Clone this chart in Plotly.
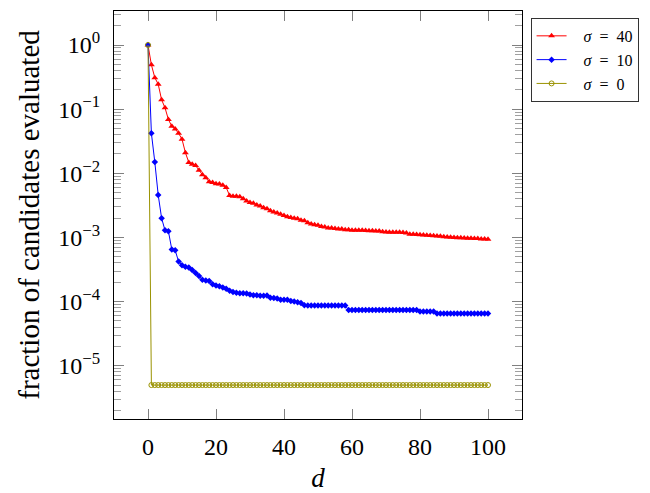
import plotly.graph_objects as go

# Number of dimensions d
d_values = list(range(0, 101))

# Fraction of candidates evaluated, sigma = 40
frac_sigma40 = [
    1.0, 0.49, 0.31, 0.245, 0.14, 0.105, 0.069, 0.054, 0.049, 0.042,
    0.034, 0.021, 0.0148, 0.0138, 0.0132, 0.0112, 0.0095, 0.0085, 0.0074, 0.0072,
    0.0069, 0.0068, 0.0065, 0.006, 0.0045, 0.0044, 0.0044, 0.0043, 0.004, 0.0037,
    0.0035, 0.0034, 0.0032, 0.0031, 0.0029, 0.0028, 0.0026, 0.0025, 0.0024, 0.0023,
    0.0022, 0.0021, 0.00204, 0.002, 0.00195, 0.00186, 0.00182, 0.0017, 0.00162, 0.00158,
    0.00155, 0.00148, 0.00145, 0.00141, 0.00141, 0.00138, 0.00135, 0.00135, 0.00132, 0.00132,
    0.0013, 0.0013, 0.00129, 0.00129, 0.00128, 0.00127, 0.00127, 0.00126, 0.00126, 0.00123,
    0.00122, 0.0012, 0.0012, 0.0012, 0.0012, 0.00119, 0.00117, 0.00112, 0.00112, 0.00111,
    0.0011, 0.00109, 0.00108, 0.00107, 0.00106, 0.00105, 0.00104, 0.00103, 0.00102, 0.00101,
    0.001, 0.00099, 0.00099, 0.00098, 0.00097, 0.00097, 0.00096, 0.00096, 0.00095, 0.00095,
    0.00094,
]

# Fraction of candidates evaluated, sigma = 10
frac_sigma10 = [
    1.0, 0.042, 0.015, 0.0046, 0.002, 0.00129, 0.00125, 0.00065, 0.00063, 0.00042,
    0.00037, 0.00035, 0.00034, 0.00031, 0.00028, 0.00025, 0.00022, 0.000214, 0.00021, 0.000186,
    0.000178, 0.000174, 0.000166, 0.000158, 0.000148, 0.000141, 0.000138, 0.000135, 0.000135, 0.000134,
    0.000129, 0.000126, 0.000126, 0.000123, 0.000123, 0.000125, 0.000115, 0.000114, 0.000112, 0.000107,
    0.000107, 0.000107, 0.000102, 0.0001, 0.000098, 0.000095, 0.000088, 0.000087, 0.000087, 0.000087,
    0.000087, 0.000087, 0.000087, 0.000087, 0.000087, 0.000087, 0.000087, 0.000087, 0.000087, 0.000074,
    0.000074, 0.000074, 0.000074, 0.000074, 0.000074, 0.000074, 0.000074, 0.000074, 0.000074, 0.000074,
    0.000074, 0.000074, 0.000074, 0.000074, 0.000074, 0.000074, 0.000074, 0.000074, 0.000074, 0.000074,
    0.00007, 0.00007, 0.00007, 0.00007, 0.00007, 0.000065, 0.000065, 0.000065, 0.000065, 0.000065,
    0.000065, 0.000065, 0.000065, 0.000065, 0.000065, 0.000065, 0.000065, 0.000065, 0.000065, 0.000065,
    0.000065,
]

# Fraction of candidates evaluated, sigma = 0
frac_sigma0 = [1.0] + [5e-6] * 100

series_names = ["&nbsp;&nbsp;&nbsp;<i>σ</i>&nbsp;&nbsp;=&nbsp;&nbsp;40",
                "&nbsp;&nbsp;&nbsp;<i>σ</i>&nbsp;&nbsp;=&nbsp;&nbsp;10",
                "&nbsp;&nbsp;&nbsp;<i>σ</i>&nbsp;&nbsp;=&nbsp;&nbsp;0"]

x_tick_vals = [0, 20, 40, 60, 80, 100]
y_tick_vals = [1, 1e-1, 1e-2, 1e-3, 1e-4, 1e-5]
y_tick_text = ["10<sup>0</sup>", "10<sup>−1</sup>", "10<sup>−2</sup>",
               "10<sup>−3</sup>", "10<sup>−4</sup>", "10<sup>−5</sup>"]
y_minor_vals = [k * 10.0 ** e for e in range(-6, 1) for k in range(2, 10)]

FONT = "Liberation Serif"

fig = go.Figure()
fig.add_trace(go.Scatter(
    x=d_values, y=frac_sigma40, name=series_names[0], mode="lines+markers",
    line=dict(color="#ff0000", width=1),
    marker=dict(symbol="triangle-up", size=6, color="#ff0000"),
))
fig.add_trace(go.Scatter(
    x=d_values, y=frac_sigma10, name=series_names[1], mode="lines+markers",
    line=dict(color="#0000ff", width=1),
    marker=dict(symbol="diamond", size=5, color="#0000ff"),
))
fig.add_trace(go.Scatter(
    x=d_values, y=frac_sigma0, name=series_names[2], mode="lines+markers",
    line=dict(color="#9a9200", width=1),
    marker=dict(symbol="circle-open", size=5, color="#9a9200", line=dict(width=1)),
))

fig.update_layout(
    width=650, height=493,
    margin=dict(l=114, r=126, t=11, b=74),
    paper_bgcolor="white", plot_bgcolor="white",
    font=dict(family=FONT, color="black"),
    showlegend=True,
    legend=dict(
        x=1.021, y=0.983, xanchor="left", yanchor="top",
        bordercolor="#333333", borderwidth=1, bgcolor="white",
        font=dict(family=FONT, size=16),
        tracegroupgap=0,
    ),
)

fig.update_xaxes(
    range=[-10, 110], automargin=False,
    tickvals=x_tick_vals, ticktext=[str(v) for v in x_tick_vals],
    tickfont=dict(size=24), ticks="inside", ticklen=10, tickwidth=1,
    tickcolor="#808080", mirror="ticks", showline=True, linecolor="black",
    linewidth=1.2, showgrid=False, zeroline=False,
    title=dict(text="<i>d</i>", font=dict(size=27), standoff=20),
    ticklabelstandoff=6,
)
fig.update_yaxes(
    type="log", range=[-5.83, 0.53], automargin=False,
    tickvals=y_tick_vals, ticktext=y_tick_text,
    tickfont=dict(size=24), ticks="inside", ticklen=10, tickwidth=1,
    tickcolor="#808080", mirror="ticks", showline=True, linecolor="black",
    linewidth=1.2, showgrid=False, zeroline=False,
    minor=dict(tickvals=y_minor_vals, ticks="inside", ticklen=7,
               tickwidth=1, tickcolor="#a0a0a0", showgrid=False),
    title=dict(text="fraction of candidates evaluated", font=dict(size=29), standoff=10),
    ticklabelstandoff=8,
)

fig.write_html("out.html")
